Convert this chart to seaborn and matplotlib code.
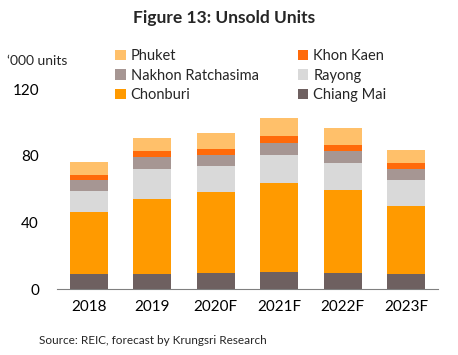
import matplotlib
matplotlib.use("Agg")
import matplotlib.pyplot as plt
import seaborn as sns
import pandas as pd
import numpy as np
from matplotlib.patches import Patch

years = ["2018", "2019", "2020F", "2021F", "2022F", "2023F"]
chiang_mai = [9.2, 9.2, 9.8, 10.4, 10.0, 9.2]
chonburi = [37.2, 45.0, 48.6, 53.4, 49.6, 40.8]
rayong = [12.8, 18.0, 15.6, 16.8, 16.2, 15.6]
nakhon = [6.6, 7.2, 6.6, 7.2, 7.2, 6.6]
khon_kaen = [2.8, 3.6, 3.6, 4.2, 3.6, 3.6]
phuket = [7.8, 7.8, 9.6, 10.8, 10.2, 7.8]

series = [
    ("Chiang Mai", chiang_mai, "#6E6060"),
    ("Chonburi", chonburi, "#FF9A00"),
    ("Rayong", rayong, "#D9D9D9"),
    ("Nakhon Ratchasima", nakhon, "#A69693"),
    ("Khon Kaen", khon_kaen, "#FF6A0A"),
    ("Phuket", phuket, "#FFC06A"),
]

sns.set_style("white")
plt.rcParams["font.family"] = ["Lato", "DejaVu Sans"]

fig = plt.figure(figsize=(4.58, 3.55), dpi=100)
ax = fig.add_axes([0.1245, 0.185, 0.8315, 0.5635])

cum = np.cumsum([s[1] for s in series], axis=0)
for i in range(len(series) - 1, -1, -1):
    df = pd.DataFrame({"year": years, "val": cum[i]})
    sns.barplot(data=df, x="year", y="val", color=series[i][2], width=0.6,
                saturation=1, ax=ax, linewidth=0, zorder=2)

ax.set_ylim(0, 120)
ax.set_yticks([0, 40, 80, 120])
ax.set_xlabel("")
ax.set_ylabel("")
for s in ["top", "right", "left"]:
    ax.spines[s].set_visible(False)
ax.spines["bottom"].set_color("#808080")
ax.spines["bottom"].set_linewidth(0.8)
ax.tick_params(axis="both", length=0, labelsize=11, colors="#000000")
ax.tick_params(axis="y", pad=13)
ax.tick_params(axis="x", pad=8)

fig.text(0.49, 0.948, "Figure 13: Unsold Units", ha="center", va="center",
         fontsize=12.5, fontweight="bold")
fig.text(0.015, 0.828, "\u2018000 units", ha="left", va="center", fontsize=10)
fig.text(0.085, 0.042, "Source: REIC, forecast by Krungsri Research",
         ha="left", va="center", fontsize=8.5)

order = ["Phuket", "Nakhon Ratchasima", "Chonburi", "Khon Kaen", "Rayong", "Chiang Mai"]
cmap = {n: c for n, _, c in series}
handles = [Patch(facecolor=cmap[n], edgecolor="none", label=n) for n in order]
fig.legend(handles=handles, ncol=2, loc="upper left", bbox_to_anchor=(0.252, 0.862),
           frameon=False, fontsize=10.5, handlelength=0.7, handleheight=0.7,
           handletextpad=0.35, columnspacing=2.7, labelspacing=0.38,
           borderaxespad=0, borderpad=0)

fig.savefig("out.png", dpi=100)
